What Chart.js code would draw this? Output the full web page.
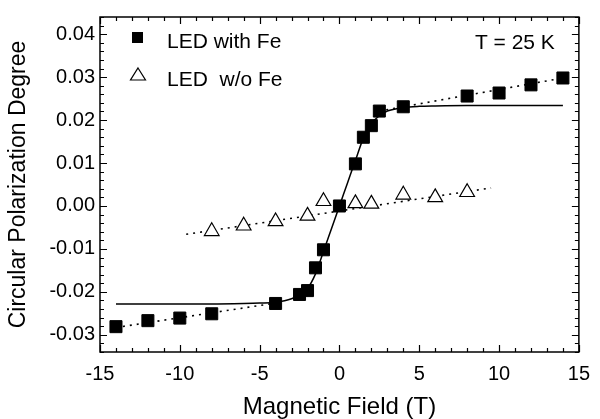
<!DOCTYPE html>
<html>
<head>
<meta charset="utf-8">
<style>
  html, body { margin: 0; padding: 0; background: #fff; }
  #wrap { width: 600px; height: 419px; }
</style>
<script src="https://cdn.jsdelivr.net/npm/chart.js@4.4.1/dist/chart.umd.min.js"></script>
</head>
<body>
<div id="wrap"><canvas id="chart" width="600" height="419"></canvas></div>
<script>
// measured points, LED with Fe
const feField  = [-14, -12, -10, -8, -4, -2.5, -2, -1.5, -1, 0, 1, 1.5, 2, 2.5, 4, 8, 10, 12, 14];
const feDegree = [-0.0281, -0.0267, -0.0261, -0.0251, -0.0227, -0.0206, -0.0197, -0.0144, -0.0102, 0.0000,
                  0.0098, 0.0160, 0.0187, 0.0221, 0.0231, 0.0256, 0.0263, 0.0282, 0.0298];

// measured points, LED w/o Fe
const noFeField  = [-8, -6, -4, -2, -1, 1, 2, 4, 6, 8];
const noFeDegree = [-0.0059, -0.0046, -0.0036, -0.0023, 0.0011, 0.0006, 0.0005, 0.0026, 0.0020, 0.0032];

// solid curve
const curveField  = [-14, -8, -6, -5, -4, -3, -2.5, -2, -1.5, -1, -0.5, 0, 0.5, 1, 1.5, 2, 2.5, 3, 4, 5, 6, 8, 14];
const curveDegree = [-0.0228, -0.0228, -0.0227, -0.0226, -0.0224, -0.0216, -0.0207, -0.0192, -0.0158, -0.0106, -0.0053, 0,
                     0.0053, 0.0106, 0.0158, 0.0192, 0.0210, 0.0221, 0.0229, 0.0232, 0.0233, 0.0234, 0.0234];

// dotted linear fits (end points)
const feNegFitField  = [-14, -4];
const feNegFitDegree = [-0.0283, -0.0226];
const fePosFitField  = [2.5, 14.3];
const fePosFitDegree = [0.0221, 0.0300];
const noFeFitField   = [-9.6, 9.5];
const noFeFitDegree  = [-0.0066, 0.0042];

const yTicks = [-0.03, -0.02, -0.01, 0, 0.01, 0.02, 0.03, 0.04];
const legendLabels = ['LED with Fe', 'LED  w/o Fe'];
const tempLabel = 'T = 25 K';

const FONT = '"Liberation Sans", Arial, Helvetica, sans-serif';
const toPoints = (xs, ys) => xs.map((x, i) => ({ x: x, y: ys[i] }));

// box around the plot with inward ticks on all four sides
const frameTicks = {
  id: 'frameTicks',
  afterDraw(chart) {
    const { ctx, chartArea: a, scales: { x, y } } = chart;
    ctx.save();
    ctx.strokeStyle = '#000';
    ctx.lineWidth = 1.2;
    ctx.beginPath();
    for (let v = -15; v <= 15; v++) {
      const px = Math.round(x.getPixelForValue(v)) + 0.5;
      const len = v % 5 === 0 ? 7 : 4;
      ctx.moveTo(px, a.bottom); ctx.lineTo(px, a.bottom - len);
      ctx.moveTo(px, a.top); ctx.lineTo(px, a.top + len);
    }
    for (let k = -17; k <= 22; k++) {
      const py = Math.round(y.getPixelForValue(k * 0.002)) + 0.5;
      const len = k % 5 === 0 ? 7 : 4;
      ctx.moveTo(a.left, py); ctx.lineTo(a.left + len, py);
      ctx.moveTo(a.right, py); ctx.lineTo(a.right - len, py);
    }
    ctx.stroke();
    ctx.lineWidth = 1.5;
    ctx.strokeRect(a.left, a.top, a.right - a.left, a.bottom - a.top);
    ctx.restore();
  }
};

// legend + temperature note inside the plot
const innerLegend = {
  id: 'innerLegend',
  afterDraw(chart) {
    const ctx = chart.ctx;
    const a = chart.chartArea;
    ctx.save();
    ctx.fillStyle = '#000';
    ctx.strokeStyle = '#000';
    ctx.lineWidth = 1.2;
    ctx.fillRect(a.left + 32, a.top + 15, 11, 11);
    ctx.beginPath();
    ctx.moveTo(a.left + 38, a.top + 51);
    ctx.lineTo(a.left + 45.5, a.top + 63);
    ctx.lineTo(a.left + 30.5, a.top + 63);
    ctx.closePath();
    ctx.stroke();
    ctx.font = '21px ' + FONT;
    ctx.textBaseline = 'middle';
    ctx.textAlign = 'left';
    ctx.fillText(legendLabels[0], a.left + 67, a.top + 25);
    ctx.fillText(legendLabels[1], a.left + 67, a.top + 63);
    ctx.textAlign = 'right';
    ctx.fillText(tempLabel, a.right - 24, a.top + 26);
    ctx.restore();
  }
};

new Chart(document.getElementById('chart'), {
  type: 'scatter',
  data: {
    datasets: [
      {
        label: legendLabels[0],
        data: toPoints(feField, feDegree),
        pointStyle: 'rect',
        pointRadius: 8.5,
        backgroundColor: '#000',
        borderColor: '#000',
        borderWidth: 1
      },
      {
        label: legendLabels[1],
        data: toPoints(noFeField, noFeDegree),
        pointStyle: 'triangle',
        pointRadius: 8.5,
        backgroundColor: '#fff',
        borderColor: '#000',
        borderWidth: 1.2
      },
      {
        data: toPoints(curveField, curveDegree),
        showLine: true,
        pointRadius: 0,
        borderColor: '#000',
        borderWidth: 1.5,
        cubicInterpolationMode: 'monotone'
      },
      {
        data: toPoints(feNegFitField, feNegFitDegree),
        showLine: true, pointRadius: 0,
        borderColor: '#000', borderWidth: 1.6, borderDash: [2, 5]
      },
      {
        data: toPoints(fePosFitField, fePosFitDegree),
        showLine: true, pointRadius: 0,
        borderColor: '#000', borderWidth: 1.6, borderDash: [2, 5]
      },
      {
        data: toPoints(noFeFitField, noFeFitDegree),
        showLine: true, pointRadius: 0,
        borderColor: '#000', borderWidth: 1.6, borderDash: [2, 5]
      }
    ]
  },
  options: {
    responsive: false,
    animation: false,
    layout: { padding: { top: 14, right: 13, bottom: 0, left: 0 } },
    plugins: {
      legend: { display: false },
      tooltip: { enabled: false }
    },
    scales: {
      x: {
        type: 'linear',
        min: -15,
        max: 15,
        grid: { display: false, drawTicks: false },
        border: { display: false },
        ticks: { stepSize: 5, color: '#000', padding: 10, font: { family: FONT, size: 20 } },
        title: {
          display: true,
          text: 'Magnetic Field (T)',
          color: '#000',
          font: { family: FONT, size: 24, lineHeight: 1 },
          padding: { top: 0, bottom: 0 }
        },
        afterFit(s) { s.height = 67; }
      },
      y: {
        type: 'linear',
        min: -0.034,
        max: 0.044,
        grid: { display: false, drawTicks: false },
        border: { display: false },
        afterBuildTicks(s) { s.ticks = yTicks.map(v => ({ value: v })); },
        ticks: {
          color: '#000',
          padding: 5,
          font: { family: FONT, size: 20 },
          callback: v => v.toFixed(2)
        },
        title: {
          display: true,
          text: 'Circular Polarization Degree',
          color: '#000',
          font: { family: FONT, size: 23 },
          padding: { top: 5, bottom: 0 }
        },
        afterFit(s) { s.width = 100; }
      }
    }
  },
  plugins: [frameTicks, innerLegend]
});
</script>
</body>
</html>
